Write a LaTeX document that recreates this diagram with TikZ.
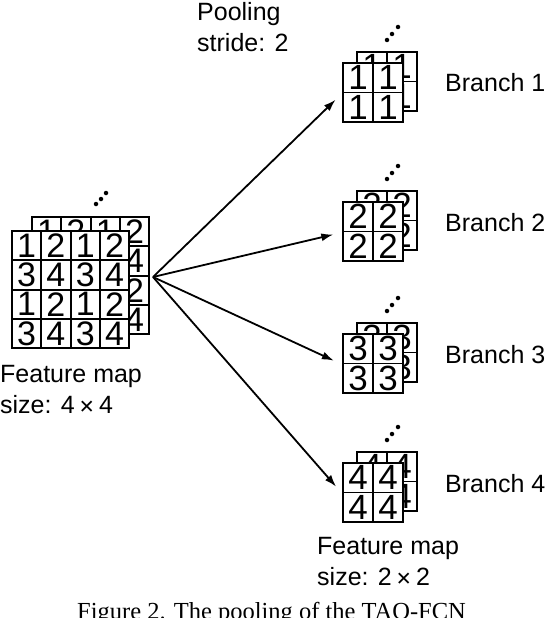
\documentclass[tikz,border=0pt]{standalone}
\usepackage{fontspec}
\setmainfont{Liberation Sans}
\newfontfamily\capfont{Liberation Serif}
\newfontfamily\symfont{DejaVu Sans}
\usetikzlibrary{arrows.meta,positioning}
\newcommand\bytimes{\,{\symfont\fontsize{19}{19}\selectfont ✕}\,}
\tikzset{
  cell/.style={draw,fill=white,line width=1.9pt,minimum width=29.3pt,minimum height=29.3pt,
    inner sep=0pt,font=\fontsize{34}{34}\selectfont},
  smallcell/.style={cell,minimum width=30pt,minimum height=29.5pt,font=\fontsize{35}{35}\selectfont},
  lbl/.style={font=\fontsize{25}{31}\selectfont,align=left,inner sep=0pt},
  pool/.style={-{Latex[length=12pt,width=8pt]},line width=1.8pt,shorten >=9pt},
  dot/.style={circle,fill,inner sep=0pt,minimum size=4.5pt},
}
\begin{document}
\begin{tikzpicture}[x=1pt,y=-1pt]
        \useasboundingbox (0,0) rectangle (548,618);
        % input feature map, back and front sheet
        \foreach \r in {1,...,4}
            \foreach \c in {1,...,4}{
                \pgfmathtruncatemacro\d{2*mod(\r+1,2)+2-mod(\c,2)}
                \node[cell] (in-b-\r-\c) at ({32+(\c-0.5)*29.3},{217+(\r-0.5)*29.3}) {\d};
            }
        \foreach \r in {1,...,4}
            \foreach \c in {1,...,4}{
                \pgfmathtruncatemacro\d{2*mod(\r+1,2)+2-mod(\c,2)}
                \node[cell] (in-\r-\c) at ({12+(\c-0.5)*29.3},{231+(\r-0.5)*29.3}) {\d};
            }
        \foreach \k/\x/\y in {1/96/204,2/101/199,3/106/193}
            \node[dot] (in-dot\k) at (\x,\y) {};
        \node[lbl,anchor=north west] (in-lbl) at (0,365) {Feature map\\size: 4\bytimes4};
        \coordinate (src) at (153,277);
        % pooled branches
        \foreach \i/\t in {1/63,2/202,3/334,4/463}{
            \foreach \r in {1,2}
                \foreach \c in {1,2}
                    \node[smallcell] (b\i-b-\r-\c) at ({357+(\c-0.5)*30},{\t-11+(\r-0.5)*29.5}) {\i};
            \foreach \r in {1,2}
                \foreach \c in {1,2}
                    \node[smallcell] (b\i-\r-\c) at ({343+(\c-0.5)*30},{\t+(\r-0.5)*29.5}) {\i};
            \foreach \k/\x/\y in {1/387/-23,2/392/-29,3/398/-36}
                \node[dot] (b\i-dot\k) at (\x,\t+\y) {};
            \node[lbl,anchor=base west] (b\i-lbl) at (445,\t+29) {Branch \i};
            \draw[pool] (src) -- (b\i-1-1.south west);
        }
        \node[lbl,anchor=north west] (pool-lbl) at (197,2) {Pooling\\stride: 2};
        \node[lbl,anchor=north west] (out-lbl) at (317,537) {Feature map\\size: 2\bytimes2};
        \node[anchor=base west,inner sep=0pt,font=\capfont\fontsize{24.5}{24.5}\selectfont]
            (caption) at (77,619.5) {Figure 2. The pooling of the TAO-FCN};
\end{tikzpicture}
\end{document}
